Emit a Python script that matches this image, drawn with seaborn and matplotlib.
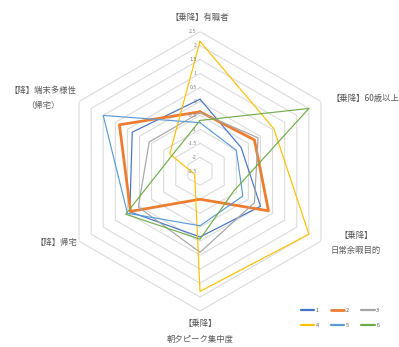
import numpy as np
import pandas as pd
import matplotlib
matplotlib.use("Agg")
import matplotlib.pyplot as plt
import matplotlib.transforms as mtransforms
from matplotlib.lines import Line2D
import seaborn as sns

# ---- data ----
categories = ['【乗降】有職者', '【乗降】60歳以上', '【乗降】\n日常余暇目的',
              '【乗降】\n朝夕ピーク集中度', '【降】帰宅', '【降】端末多様性\n（帰宅）']
series_names = ['1', '2', '3', '4', '5', '6']
s1 = [0.08, -0.80, 0.00, -0.15, 0.40, 0.30]
s2 = [-0.37, -0.25, 0.33, -1.50, 0.37, 0.83]
s3 = [-0.40, -0.10, -0.25, 0.40, 0.05, -0.40]
s4 = [2.15, 0.55, 2.00, 1.80, -2.28, -1.25]
s5 = [-0.76, -1.00, -0.73, -0.55, 0.50, 1.50]
s6 = [-0.68, 2.00, -1.10, -0.07, 0.57, -1.35]
tick_values = [2.5, 2, 1.5, 1, 0.5, 0, -0.5, -1, -1.5, -2, -2.5]
tick_labels = ['2.5', '2', '1.5', '1', '0.5', '0', '-0.5', '-1', '-1.5', '-2', '-2.5']

colors = ['#4472C4', '#ED7D31', '#A5A5A5', '#FFC000', '#5B9BD5', '#70AD47']
widths = [0.85, 2.0, 0.85, 0.85, 0.85, 0.85]

sns.set_theme(style="white")
plt.rcParams['font.family'] = ['Noto Sans CJK JP', 'DejaVu Sans']

W, H = 399, 347
fig = plt.figure(figsize=(W / 100, H / 100), dpi=100)
fig.patch.set_facecolor('white')

cx, cy, R = 200, 171.3, 139.7
rect = [(cx - R) / W, 1 - (cy + R) / H, 2 * R / W, 2 * R / H]
ax = fig.add_axes(rect, projection='polar')
ax.set_theta_zero_location('N')
ax.set_theta_direction(-1)
ax.patch.set_alpha(0)

n = len(categories)
angles = np.arange(n) * 2 * np.pi / n
angles_closed = np.append(angles, 2 * np.pi)

# hexagonal gridlines
for v in tick_values:
    if v > -2.5:
        ax.plot(angles_closed, [v] * (n + 1), color='#D9D9D9', lw=0.75, zorder=1)

all_series = [s1, s2, s3, s4, s5, s6]
for name, vals, c, w in zip(series_names, all_series, colors, widths):
    df = pd.DataFrame({'theta': angles_closed, 'value': list(vals) + [vals[0]]})
    sns.lineplot(data=df, x='theta', y='value', sort=False, estimator=None,
                 color=c, linewidth=w, ax=ax, legend=False, zorder=3)

ax.set_ylim(-2.5, 2.5)
ax.grid(False)
ax.spines['polar'].set_visible(False)
ax.set_xticks([])
ax.set_yticks([])
ax.set_xlabel('')
ax.set_ylabel('')

# radial tick labels along the top axis
off = mtransforms.offset_copy(ax.transData, fig=fig, x=-3.5, y=0, units='dots')
for v, t in zip(tick_values, tick_labels):
    ax.text(0, v, t, transform=off, ha='right', va='center', fontsize=3.8,
            color='#7F7F7F')

# category labels
lab_kw = dict(fontsize=6, color='#595959', linespacing=1.9)
fig.text(200 / W, 1 - 17 / H, categories[0], ha='center', va='center', **lab_kw)
fig.text(365 / W, 1 - 98.5 / H, categories[1], ha='center', va='center', **lab_kw)
fig.text(356 / W, 1 - 243 / H, categories[2], ha='center', va='center', **lab_kw)
fig.text(200 / W, 1 - 331.5 / H, categories[3], ha='center', va='center', **lab_kw)
fig.text(56 / W, 1 - 242.7 / H, categories[4], ha='center', va='center', **lab_kw)
fig.text(43 / W, 1 - 98 / H, categories[5], ha='center', va='center', **lab_kw)

# legend (row-wise order: 1 2 3 / 4 5 6)
handles = [Line2D([0], [0], color=c, lw=(1.6 if w < 1.5 else 2.0))
           for c, w in zip(colors, widths)]
order = [0, 3, 1, 4, 2, 5]
fig.legend([handles[i] for i in order], [series_names[i] for i in order],
           loc='center', ncol=3,
           bbox_to_anchor=(340 / W, 1 - 318 / H), frameon=False,
           fontsize=4, handlelength=2.4, handletextpad=0.3,
           columnspacing=2.2, labelspacing=1.8,
           labelcolor='#595959')

fig.savefig('out.png', dpi=100, facecolor='white')
